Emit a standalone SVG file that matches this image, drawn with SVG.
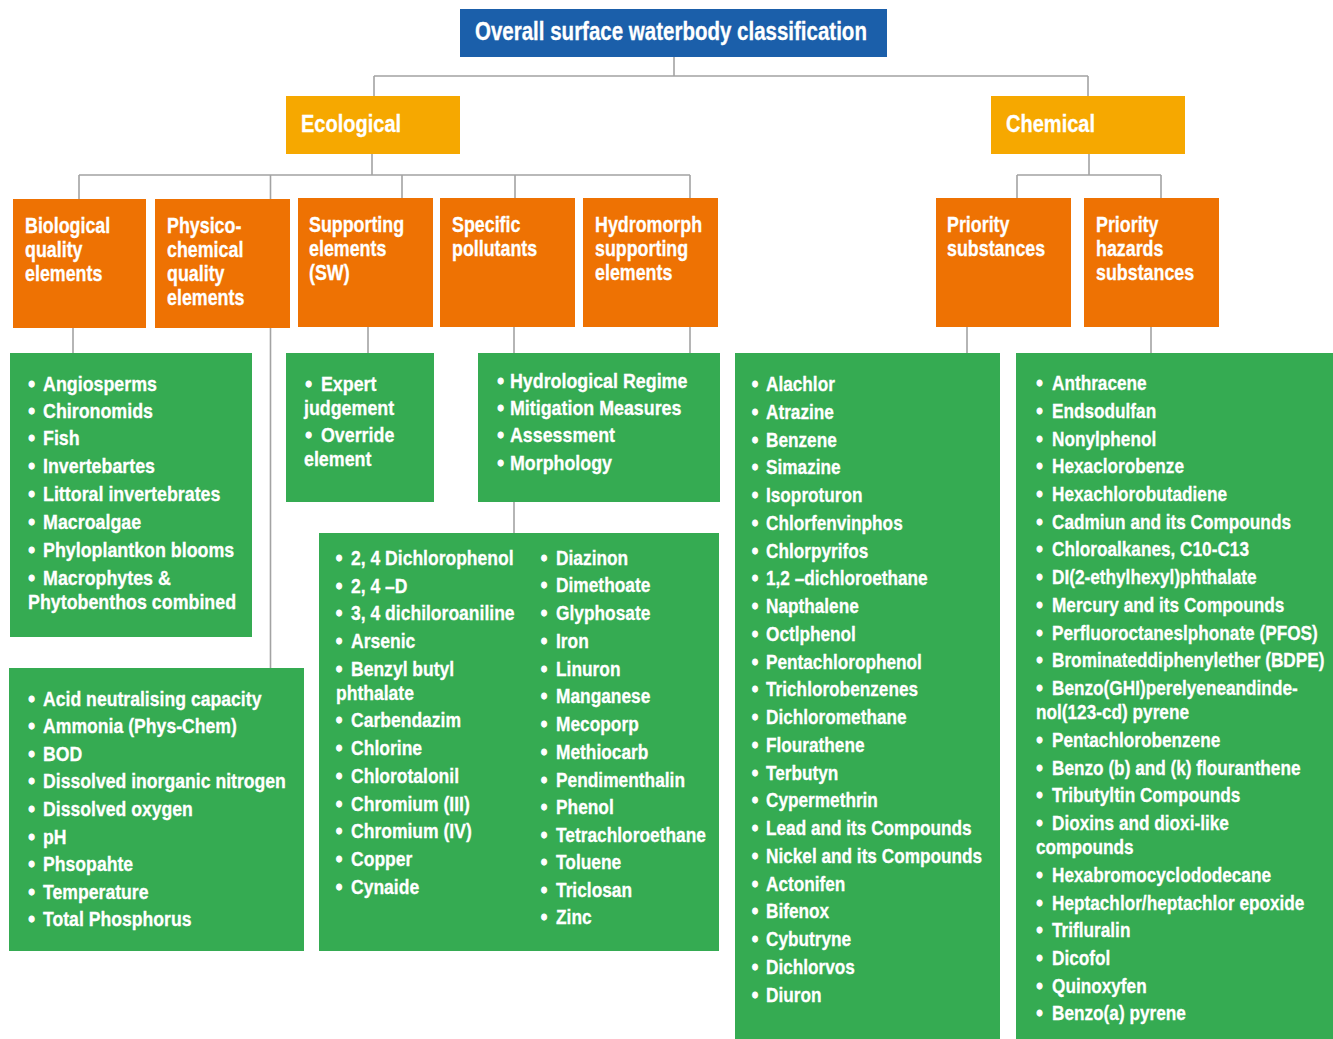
<svg xmlns="http://www.w3.org/2000/svg" width="1333" height="1039" viewBox="0 0 1333 1039">
<style>
.t{font-family:"Liberation Sans",Arial,sans-serif;font-weight:bold;fill:#fff;stroke:#fff;stroke-width:0.3}
.title{font-size:25px}
.h1{font-size:24px}
.h2{font-size:21.5px}
.li{font-size:21px}
.b{stroke:#fff;stroke-width:1.3}
.blue{fill:#1B5FAA}
.yel{fill:#F6A800}
.org{fill:#EE7203}
.grn{fill:#35AB52}
.c{fill:none;stroke:#A3A3A3;stroke-width:1.6}
</style>
<rect width="1333" height="1039" fill="#fff"/>
<g id="connectors">
<path class="c" d="M674 57V76M374 76H1088M374 76V96M1088 76V96"/>
<path class="c" d="M372 154V175M79 175H690M79 175V199M270.5 175V199M402 175V198M515 175V198M690 175V198"/>
<path class="c" d="M1089 154V175M1017 175H1161M1017 175V198M1161 175V198"/>
<path class="c" d="M73 328V353M270.5 328V668M368 327V353M514 327V533M690 327V353M967 327V353M1151 327V353"/>
</g>
<g id="root"><rect class="blue" x="460" y="9" width="427" height="48"/><text class="t title" transform="translate(475 0) scale(0.82 1)" x="0" y="40">Overall surface waterbody classification</text></g>
<g id="ecological"><rect class="yel" x="286" y="96" width="174" height="58"/><text class="t h1" transform="translate(301 0) scale(0.835 1)" x="0" y="132">Ecological</text></g>
<g id="chemical"><rect class="yel" x="991" y="96" width="194" height="58"/><text class="t h1" transform="translate(1006 0) scale(0.835 1)" x="0" y="132">Chemical</text></g>
<g id="biological"><rect class="org" x="13" y="199" width="133" height="129"/><text class="t h2" transform="translate(25 0) scale(0.83 1)"><tspan x="0" y="233">Biological</tspan><tspan x="0" y="257.5">quality</tspan><tspan x="0" y="281.5">elements</tspan></text></g>
<g id="physico"><rect class="org" x="155" y="199" width="135" height="129"/><text class="t h2" transform="translate(167 0) scale(0.83 1)"><tspan x="0" y="233">Physico-</tspan><tspan x="0" y="257.5">chemical</tspan><tspan x="0" y="281.5">quality</tspan><tspan x="0" y="305.5">elements</tspan></text></g>
<g id="supporting"><rect class="org" x="298" y="198" width="135" height="129"/><text class="t h2" transform="translate(309 0) scale(0.83 1)"><tspan x="0" y="232.5">Supporting</tspan><tspan x="0" y="256.5">elements</tspan><tspan x="0" y="280.5">(SW)</tspan></text></g>
<g id="specific"><rect class="org" x="440" y="198" width="135" height="129"/><text class="t h2" transform="translate(452 0) scale(0.83 1)"><tspan x="0" y="232.5">Specific</tspan><tspan x="0" y="256.5">pollutants</tspan></text></g>
<g id="hydromorph"><rect class="org" x="583" y="198" width="135" height="129"/><text class="t h2" transform="translate(595 0) scale(0.83 1)"><tspan x="0" y="232.5">Hydromorph</tspan><tspan x="0" y="256.5">supporting</tspan><tspan x="0" y="280.5">elements</tspan></text></g>
<g id="priority"><rect class="org" x="936" y="198" width="135" height="129"/><text class="t h2" transform="translate(947 0) scale(0.83 1)"><tspan x="0" y="232.5">Priority</tspan><tspan x="0" y="256.5">substances</tspan></text></g>
<g id="hazards"><rect class="org" x="1084" y="198" width="135" height="129"/><text class="t h2" transform="translate(1096 0) scale(0.83 1)"><tspan x="0" y="232.5">Priority</tspan><tspan x="0" y="256.5">hazards</tspan><tspan x="0" y="280.5">substances</tspan></text></g>

<g id="bio-list"><rect class="grn" x="10" y="353" width="242" height="284"/>
<text class="t li" transform="translate(28.5 0) scale(0.85 1)">
<tspan class="b" x="0" y="391">•</tspan><tspan x="17.1" y="391">Angiosperms</tspan>
<tspan class="b" x="0" y="418">•</tspan><tspan x="17.1" y="418">Chironomids</tspan>
<tspan class="b" x="0" y="445">•</tspan><tspan x="17.1" y="445">Fish</tspan>
<tspan class="b" x="0" y="473">•</tspan><tspan x="17.1" y="473">Invertebartes</tspan>
<tspan class="b" x="0" y="501">•</tspan><tspan x="17.1" y="501">Littoral invertebrates</tspan>
<tspan class="b" x="0" y="529">•</tspan><tspan x="17.1" y="529">Macroalgae</tspan>
<tspan class="b" x="0" y="557">•</tspan><tspan x="17.1" y="557">Phyloplantkon blooms</tspan>
<tspan class="b" x="0" y="585">•</tspan><tspan x="17.1" y="585">Macrophytes &amp;</tspan>
<tspan x="-0.6" y="609">Phytobenthos combined</tspan>
</text></g>

<g id="phys-list"><rect class="grn" x="9" y="668" width="295" height="283"/>
<text class="t li" transform="translate(28.5 0) scale(0.84 1)">
<tspan class="b" x="0" y="706">•</tspan><tspan x="17.3" y="706">Acid neutralising capacity</tspan>
<tspan class="b" x="0" y="733.5">•</tspan><tspan x="17.3" y="733.5">Ammonia (Phys-Chem)</tspan>
<tspan class="b" x="0" y="761">•</tspan><tspan x="17.3" y="761">BOD</tspan>
<tspan class="b" x="0" y="788.5">•</tspan><tspan x="17.3" y="788.5">Dissolved inorganic nitrogen</tspan>
<tspan class="b" x="0" y="816">•</tspan><tspan x="17.3" y="816">Dissolved oxygen</tspan>
<tspan class="b" x="0" y="844">•</tspan><tspan x="17.3" y="844">pH</tspan>
<tspan class="b" x="0" y="871.5">•</tspan><tspan x="17.3" y="871.5">Phsopahte</tspan>
<tspan class="b" x="0" y="899">•</tspan><tspan x="17.3" y="899">Temperature</tspan>
<tspan class="b" x="0" y="926.5">•</tspan><tspan x="17.3" y="926.5">Total Phosphorus</tspan>
</text></g>

<g id="sup-list"><rect class="grn" x="286" y="353" width="148" height="149"/>
<text class="t li" transform="translate(305.5 0) scale(0.85 1)">
<tspan class="b" x="0" y="391">•</tspan><tspan x="18.2" y="391">Expert</tspan>
<tspan x="-1.8" y="415">judgement</tspan>
<tspan class="b" x="0" y="442">•</tspan><tspan x="18.2" y="442">Override</tspan>
<tspan x="-1.8" y="466">element</tspan>
</text></g>

<g id="hydro-list"><rect class="grn" x="478" y="353" width="242" height="149"/>
<text class="t li" transform="translate(497.5 0) scale(0.85 1)">
<tspan class="b" x="0" y="388">•</tspan><tspan x="14.7" y="388">Hydrological Regime</tspan>
<tspan class="b" x="0" y="415">•</tspan><tspan x="14.7" y="415">Mitigation Measures</tspan>
<tspan class="b" x="0" y="442">•</tspan><tspan x="14.7" y="442">Assessment</tspan>
<tspan class="b" x="0" y="470">•</tspan><tspan x="14.7" y="470">Morphology</tspan>
</text></g>

<g id="poll-list"><rect class="grn" x="319" y="533" width="400" height="418"/>
<text class="t li" transform="translate(336 0) scale(0.835 1)">
<tspan class="b" x="0" y="565">•</tspan><tspan x="18" y="565">2, 4 Dichlorophenol</tspan>
<tspan class="b" x="0" y="592.7">•</tspan><tspan x="18" y="592.7">2, 4 –D</tspan>
<tspan class="b" x="0" y="620.4">•</tspan><tspan x="18" y="620.4">3, 4 dichiloroaniline</tspan>
<tspan class="b" x="0" y="648">•</tspan><tspan x="18" y="648">Arsenic</tspan>
<tspan class="b" x="0" y="675.7">•</tspan><tspan x="18" y="675.7">Benzyl butyl</tspan>
<tspan x="0" y="700">phthalate</tspan>
<tspan class="b" x="0" y="727">•</tspan><tspan x="18" y="727">Carbendazim</tspan>
<tspan class="b" x="0" y="755">•</tspan><tspan x="18" y="755">Chlorine</tspan>
<tspan class="b" x="0" y="783">•</tspan><tspan x="18" y="783">Chlorotalonil</tspan>
<tspan class="b" x="0" y="811">•</tspan><tspan x="18" y="811">Chromium (III)</tspan>
<tspan class="b" x="0" y="838.5">•</tspan><tspan x="18" y="838.5">Chromium (IV)</tspan>
<tspan class="b" x="0" y="866.5">•</tspan><tspan x="18" y="866.5">Copper</tspan>
<tspan class="b" x="0" y="894">•</tspan><tspan x="18" y="894">Cynaide</tspan>
</text>
<text class="t li" transform="translate(541 0) scale(0.825 1)">
<tspan class="b" x="0" y="565">•</tspan><tspan x="18.2" y="565">Diazinon</tspan>
<tspan class="b" x="0" y="592.5">•</tspan><tspan x="18.2" y="592.5">Dimethoate</tspan>
<tspan class="b" x="0" y="620">•</tspan><tspan x="18.2" y="620">Glyphosate</tspan>
<tspan class="b" x="0" y="648">•</tspan><tspan x="18.2" y="648">Iron</tspan>
<tspan class="b" x="0" y="675.7">•</tspan><tspan x="18.2" y="675.7">Linuron</tspan>
<tspan class="b" x="0" y="703">•</tspan><tspan x="18.2" y="703">Manganese</tspan>
<tspan class="b" x="0" y="730.7">•</tspan><tspan x="18.2" y="730.7">Mecoporp</tspan>
<tspan class="b" x="0" y="759">•</tspan><tspan x="18.2" y="759">Methiocarb</tspan>
<tspan class="b" x="0" y="786.7">•</tspan><tspan x="18.2" y="786.7">Pendimenthalin</tspan>
<tspan class="b" x="0" y="814">•</tspan><tspan x="18.2" y="814">Phenol</tspan>
<tspan class="b" x="0" y="841.7">•</tspan><tspan x="18.2" y="841.7">Tetrachloroethane</tspan>
<tspan class="b" x="0" y="869">•</tspan><tspan x="18.2" y="869">Toluene</tspan>
<tspan class="b" x="0" y="896.7">•</tspan><tspan x="18.2" y="896.7">Triclosan</tspan>
<tspan class="b" x="0" y="924">•</tspan><tspan x="18.2" y="924">Zinc</tspan>
</text></g>

<g id="prio-list"><rect class="grn" x="735" y="353" width="265" height="686"/>
<text class="t li" transform="translate(752 0) scale(0.82 1)">
<tspan class="b" x="0" y="391.3">•</tspan><tspan x="17.1" y="391.3">Alachlor</tspan>
<tspan class="b" x="0" y="419">•</tspan><tspan x="17.1" y="419">Atrazine</tspan>
<tspan class="b" x="0" y="446.8">•</tspan><tspan x="17.1" y="446.8">Benzene</tspan>
<tspan class="b" x="0" y="474.5">•</tspan><tspan x="17.1" y="474.5">Simazine</tspan>
<tspan class="b" x="0" y="502.3">•</tspan><tspan x="17.1" y="502.3">Isoproturon</tspan>
<tspan class="b" x="0" y="530">•</tspan><tspan x="17.1" y="530">Chlorfenvinphos</tspan>
<tspan class="b" x="0" y="557.7">•</tspan><tspan x="17.1" y="557.7">Chlorpyrifos</tspan>
<tspan class="b" x="0" y="585.5">•</tspan><tspan x="17.1" y="585.5">1,2 –dichloroethane</tspan>
<tspan class="b" x="0" y="613.2">•</tspan><tspan x="17.1" y="613.2">Napthalene</tspan>
<tspan class="b" x="0" y="641">•</tspan><tspan x="17.1" y="641">Octlphenol</tspan>
<tspan class="b" x="0" y="668.7">•</tspan><tspan x="17.1" y="668.7">Pentachlorophenol</tspan>
<tspan class="b" x="0" y="696.4">•</tspan><tspan x="17.1" y="696.4">Trichlorobenzenes</tspan>
<tspan class="b" x="0" y="724.2">•</tspan><tspan x="17.1" y="724.2">Dichloromethane</tspan>
<tspan class="b" x="0" y="751.9">•</tspan><tspan x="17.1" y="751.9">Flourathene</tspan>
<tspan class="b" x="0" y="779.7">•</tspan><tspan x="17.1" y="779.7">Terbutyn</tspan>
<tspan class="b" x="0" y="807.4">•</tspan><tspan x="17.1" y="807.4">Cypermethrin</tspan>
<tspan class="b" x="0" y="835.1">•</tspan><tspan x="17.1" y="835.1">Lead and its Compounds</tspan>
<tspan class="b" x="0" y="862.9">•</tspan><tspan x="17.1" y="862.9">Nickel and its Compounds</tspan>
<tspan class="b" x="0" y="890.6">•</tspan><tspan x="17.1" y="890.6">Actonifen</tspan>
<tspan class="b" x="0" y="918.4">•</tspan><tspan x="17.1" y="918.4">Bifenox</tspan>
<tspan class="b" x="0" y="946.1">•</tspan><tspan x="17.1" y="946.1">Cybutryne</tspan>
<tspan class="b" x="0" y="973.8">•</tspan><tspan x="17.1" y="973.8">Dichlorvos</tspan>
<tspan class="b" x="0" y="1001.6">•</tspan><tspan x="17.1" y="1001.6">Diuron</tspan>
</text></g>

<g id="haz-list"><rect class="grn" x="1016" y="353" width="317" height="686"/>
<text class="t li" transform="translate(1036.5 0) scale(0.82 1)">
<tspan class="b" x="0" y="390.5">•</tspan><tspan x="18.9" y="390.5">Anthracene</tspan>
<tspan class="b" x="0" y="418">•</tspan><tspan x="18.9" y="418">Endsodulfan</tspan>
<tspan class="b" x="0" y="446">•</tspan><tspan x="18.9" y="446">Nonylphenol</tspan>
<tspan class="b" x="0" y="473.5">•</tspan><tspan x="18.9" y="473.5">Hexaclorobenze</tspan>
<tspan class="b" x="0" y="501">•</tspan><tspan x="18.9" y="501">Hexachlorobutadiene</tspan>
<tspan class="b" x="0" y="529">•</tspan><tspan x="18.9" y="529">Cadmiun and its Compounds</tspan>
<tspan class="b" x="0" y="556.5">•</tspan><tspan x="18.9" y="556.5">Chloroalkanes, C10-C13</tspan>
<tspan class="b" x="0" y="584.5">•</tspan><tspan x="18.9" y="584.5">DI(2-ethylhexyl)phthalate</tspan>
<tspan class="b" x="0" y="612">•</tspan><tspan x="18.9" y="612">Mercury and its Compounds</tspan>
<tspan class="b" x="0" y="640">•</tspan><tspan x="18.9" y="640">Perfluoroctaneslphonate (PFOS)</tspan>
<tspan class="b" x="0" y="667.5">•</tspan><tspan x="18.9" y="667.5">Brominateddiphenylether (BDPE)</tspan>
<tspan class="b" x="0" y="695.5">•</tspan><tspan x="18.9" y="695.5">Benzo(GHI)perelyeneandinde-</tspan>
<tspan x="-0.6" y="719.5">nol(123-cd) pyrene</tspan>
<tspan class="b" x="0" y="747">•</tspan><tspan x="18.9" y="747">Pentachlorobenzene</tspan>
<tspan class="b" x="0" y="775">•</tspan><tspan x="18.9" y="775">Benzo (b) and (k) flouranthene</tspan>
<tspan class="b" x="0" y="802.5">•</tspan><tspan x="18.9" y="802.5">Tributyltin Compounds</tspan>
<tspan class="b" x="0" y="830">•</tspan><tspan x="18.9" y="830">Dioxins and dioxi-like</tspan>
<tspan x="-0.6" y="854.5">compounds</tspan>
<tspan class="b" x="0" y="882">•</tspan><tspan x="18.9" y="882">Hexabromocyclododecane</tspan>
<tspan class="b" x="0" y="910">•</tspan><tspan x="18.9" y="910">Heptachlor/heptachlor epoxide</tspan>
<tspan class="b" x="0" y="937.5">•</tspan><tspan x="18.9" y="937.5">Trifluralin</tspan>
<tspan class="b" x="0" y="965">•</tspan><tspan x="18.9" y="965">Dicofol</tspan>
<tspan class="b" x="0" y="993">•</tspan><tspan x="18.9" y="993">Quinoxyfen</tspan>
<tspan class="b" x="0" y="1020.5">•</tspan><tspan x="18.9" y="1020.5">Benzo(a) pyrene</tspan>
</text></g>
</svg>
